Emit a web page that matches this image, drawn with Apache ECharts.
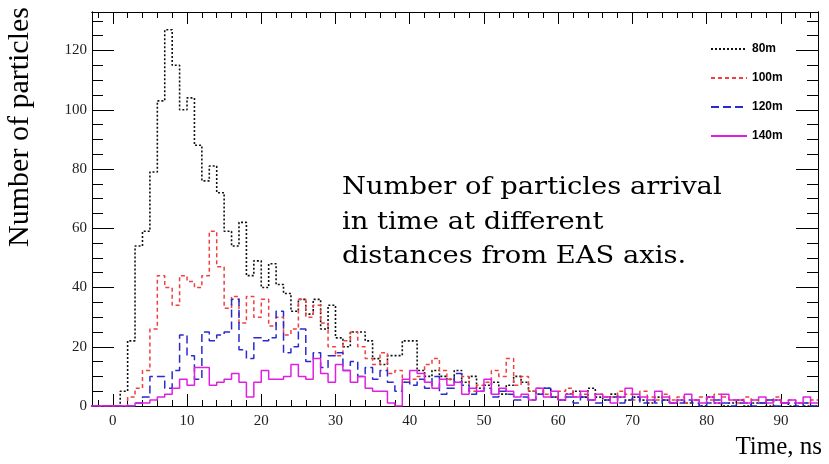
<!DOCTYPE html>
<html><head><meta charset="utf-8">
<script src="https://cdn.jsdelivr.net/npm/echarts@6/dist/echarts.min.js"></script>
<style>html,body{margin:0;padding:0;background:#fff}#c{width:829px;height:464px}</style>
</head><body><div id="c"></div>
<script>
// ---- data (1 ns bins starting at -3 ns) ----
const binStart = -3;
const binWidth = 1;
const seriesNames = ['80m', '100m', '120m', '140m'];
const counts80m = [0,0,0,
 0,5,22,54,59,79,103,127,115,100, 104,88,76,81,72,59,54,62,44,49,
 40,48,41,38,32,36,31,36,26,34, 23,20,25,25,22,16,14,17,17,22,
 22,12,10,12,10,9,12,8,10,6, 7,8,4,7,10,8,5,4,6,3,
 2,4,5,3,6,3,2,4,3,2, 3,2,1,3,2,1,2,1,2,0,
 3,1,0,1,2,0,1,1,0,2, 1,0,1,0,0];
const counts100m = [0,0,0,
 0,0,3,6,12,26,44,40,34,44, 42,40,44,59,47,33,37,28,37,30,
 36,27,30,24,26,36,30,34,28,20, 17,22,25,20,16,14,18,11,12,8,
 9,10,14,16,12,9,8,10,5,7, 8,12,10,16,7,10,5,6,4,3,
 5,6,3,4,2,4,3,3,5,4, 2,5,3,2,4,2,3,1,2,3,
 2,4,3,2,1,3,2,1,2,3, 1,2,1,1,2];
const counts120m = [0,0,0,
 0,0,0,1,3,10,10,6,12,24, 17,9,25,22,24,25,36,19,16,23,
 22,23,32,18,20,26,15,18,13,17, 18,12,15,10,13,9,12,8,5,8,
 7,9,6,10,4,6,11,7,4,5, 6,3,5,4,2,3,2,4,6,3,
 2,3,1,3,2,1,2,3,1,2, 3,1,2,1,2,1,1,2,1,0,
 1,2,1,0,1,1,0,1,2,0, 1,1,0,1,0];
const counts140m = [0,0,0,
 0,0,0,1,1,2,3,4,6,9, 7,13,13,7,8,9,11,8,3,8,
 12,9,9,10,14,10,9,16,11,8, 14,12,8,10,6,5,5,1,0,9,
 12,11,8,6,9,7,8,4,6,5, 9,4,6,5,3,4,2,6,3,5,
 2,4,3,5,2,4,3,1,3,6, 4,3,2,5,3,1,2,4,2,1,
 3,1,4,2,2,1,2,3,1,2, 1,2,1,3,1];
const xTickLabels = [0,10,20,30,40,50,60,70,80,90];
const xMinorTicks = [-2,0,2,4,6,8,10,12,14,16,18,20,22,24,26,28,30,32,34,36,38,40,42,44,46,48,50,52,54,56,58,60,62,64,66,68,70,72,74,76,78,80,82,84,86,88,90,92,94];
const yTickLabels = [0,20,40,60,80,100,120];
const yMinorTicks = [0,5,10,15,20,25,30,35,40,45,50,55,60,65,70,75,80,85,90,95,100,105,110,115,120,125,130];

const X_MIN = -2.8, X_MAX = 95, Y_MIN = 0, Y_MAX = 133;

function toSteps(counts) {
  const pts = counts.map((v, i) => [binStart + i * binWidth, v]);
  pts.push([binStart + counts.length * binWidth, counts[counts.length - 1]]);
  return pts;
}

const styles = [
  {color: '#111111', type: [2, 2], width: 1.6},
  {color: '#f04040', type: [4, 3], width: 1.5},
  {color: '#2a2ad0', type: [8, 4], width: 1.5},
  {color: '#e020e0', type: 'solid', width: 1.5}
];
const allCounts = [counts80m, counts100m, counts120m, counts140m];

const labelFont = {fontFamily: 'Liberation Serif', fontSize: 15, color: '#222'};

function xAxisDef(pos, ticks, len, showLabel) {
  return {
    type: 'value', position: pos, min: X_MIN, max: X_MAX,
    axisLine: {show: true, onZero: false, lineStyle: {color: '#000', width: 1}},
    axisTick: {show: true, inside: true, length: len, customValues: ticks, lineStyle: {color: '#000', width: 1}},
    axisLabel: {show: showLabel, customValues: xTickLabels, margin: 8, ...labelFont},
    splitLine: {show: false}
  };
}
function yAxisDef(pos, ticks, len, showLabel) {
  return {
    type: 'value', position: pos, min: Y_MIN, max: Y_MAX,
    axisLine: {show: true, onZero: false, lineStyle: {color: '#000', width: 1}},
    axisTick: {show: true, inside: true, length: len, customValues: ticks, lineStyle: {color: '#000', width: 1}},
    axisLabel: {show: showLabel, customValues: yTickLabels, margin: 5, ...labelFont},
    splitLine: {show: false}
  };
}

const chart = echarts.init(document.getElementById('c'));
chart.setOption({
  animation: false,
  backgroundColor: '#fff',
  grid: {left: 92, top: 12, right: 11, bottom: 58, containLabel: false},
  xAxis: [
    xAxisDef('bottom', xTickLabels, 12, true),
    xAxisDef('bottom', xMinorTicks, 6, false),
    xAxisDef('top', xTickLabels, 12, false),
    xAxisDef('top', xMinorTicks, 6, false)
  ],
  yAxis: [
    yAxisDef('left', yTickLabels, 22, true),
    yAxisDef('left', yMinorTicks, 11, false),
    yAxisDef('right', yTickLabels, 22, false),
    yAxisDef('right', yMinorTicks, 11, false)
  ],
  legend: {
    orient: 'vertical', left: 705, top: 37,
    itemWidth: 36, itemHeight: 14, itemGap: 15,
    itemStyle: {color: 'rgba(0,0,0,0)', borderWidth: 0, opacity: 0},
    textStyle: {fontFamily: 'Liberation Sans', fontWeight: 'bold', fontSize: 12, color: '#000', lineHeight: 14},
    data: seriesNames
  },
  series: allCounts.map((c, i) => ({
    name: seriesNames[i], type: 'line', step: 'end', symbol: 'none',
    xAxisIndex: 0, yAxisIndex: 0,
    lineStyle: styles[i], itemStyle: {color: styles[i].color},
    data: toSteps(c), z: 2 + i
  })),
  graphic: [
    {type: 'text', x: 20, y: 7, rotation: Math.PI / 2,
     style: {text: 'Number of particles', font: '30px "Liberation Serif"', fill: '#000', align: 'right', verticalAlign: 'middle', textAlign: 'right', textVerticalAlign: 'middle'}},
    {type: 'text', x: 822, y: 447,
     style: {text: 'Time, ns', font: '25px "Liberation Serif"', fill: '#000', align: 'right', verticalAlign: 'middle', textAlign: 'right', textVerticalAlign: 'middle'}},
    {type: 'text', x: 342, y: 171, scaleX: 1.14,
     style: {text: 'Number of particles arrival\nin time at different\ndistances from EAS axis.', font: '24px "DejaVu Serif"', lineHeight: 34.5, fill: '#000', align: 'left', verticalAlign: 'top'}}
  ]
});
</script></body></html>
